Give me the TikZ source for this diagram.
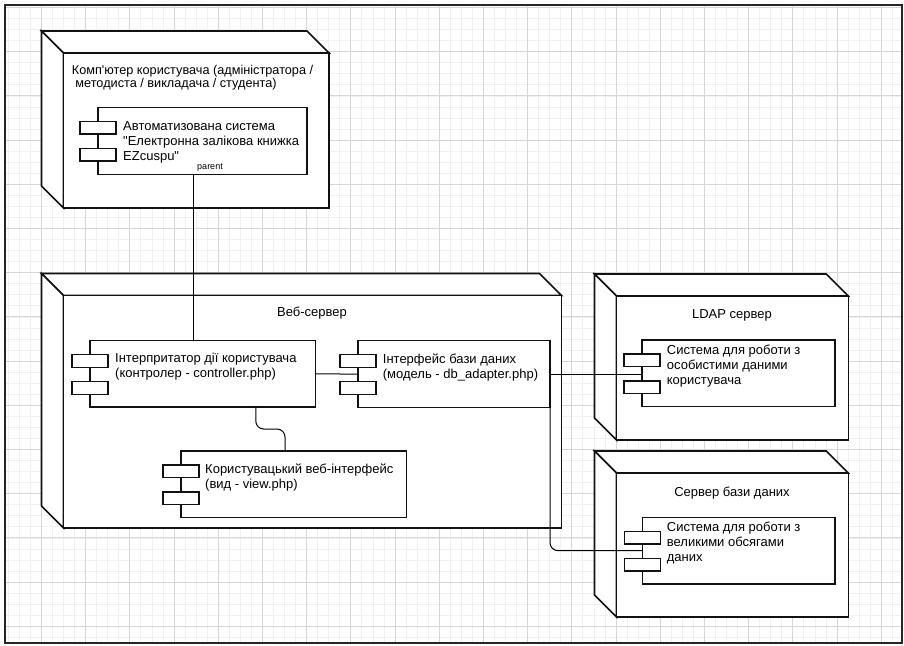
\documentclass[tikz,border=0pt]{standalone}
\usepackage{fontspec}
\newfontfamily\lsans{Liberation Sans}
\definecolor{gmajor}{HTML}{D6D6D6}
\definecolor{gminor}{HTML}{F0F0F0}
\definecolor{ink}{HTML}{111111}
\newcommand\boxthreed[5]{%
  \filldraw[nodeline] (#2,#3) -- (#2-22,#3-22) -- (#4-22,#3-22) -- (#4,#3) -- cycle;
  \filldraw[nodeline] (#2,#3) -- (#2-22,#3-22) -- (#2-22,#5-22) -- (#2,#5) -- cycle;
  \node[frontbox, minimum width={#4-#2}, minimum height={#5-#3}] (#1) at (#2,#3) {};}
\newcommand\compo[5]{%
  \node[compbox, minimum width={#4-#2}, minimum height={#5-#3}] (#1) at (#2,#3) {};
  \draw[tabbox] ([shift={(-18,14)}]#1.north west) rectangle ++(36,12.5);
  \draw[tabbox] ([shift={(-18,41)}]#1.north west) rectangle ++(36,12.5);}
\begin{document}
\begin{tikzpicture}[x=1pt,y=-1pt,
  nodeline/.style={draw=ink, line width=1.6pt, fill=white, line join=miter},
  frontbox/.style={nodeline, rectangle, inner sep=0, outer sep=0, anchor=north west},
  compbox/.style={draw=ink, line width=1.4pt, fill=white, rectangle, inner sep=0, outer sep=0, anchor=north west},
  tabbox/.style={draw=ink, line width=1.4pt, fill=white},
  conn/.style={draw=black, line width=1pt},
  txt/.style={font=\lsans\fontsize{13}{15}\selectfont, inner sep=0, align=left, anchor=north west},
  hdr/.style={font=\lsans\fontsize{12.7}{12.5}\selectfont, inner sep=0, align=left, anchor=north west},
  lbl/.style={font=\lsans\fontsize{13}{15}\selectfont, inner sep=0, anchor=base},
  tinytxt/.style={font=\lsans\fontsize{9}{10}\selectfont, inner sep=0}]
\useasboundingbox (0,0) rectangle (904,645);
\fill[white] (0,0) rectangle (904,645);
% grid
\begin{scope}
\clip (5,5) rectangle (902,643);
\foreach \i in {0,...,82} {\draw[gminor, line width=0.8pt] ({-2.8+11.05*\i},0) -- ++(0,645);}
\foreach \i in {0,...,59} {\draw[gminor, line width=0.8pt] (0,{-3.55+11.05*\i}) -- ++(904,0);}
\foreach \i in {0,...,21} {\draw[gmajor, line width=1pt] ({-2.8+44.2*\i},0) -- ++(0,645);}
\foreach \i in {0,...,14} {\draw[gmajor, line width=1pt] (0,{7.5+44.2*\i}) -- ++(904,0);}
\end{scope}
\draw[line width=2pt, black!85] (5,5) rectangle (902,643);
% 3D nodes
\boxthreed{pc}{63.5}{53}{329}{208}
\boxthreed{web}{63.5}{295.5}{561.5}{528}
\boxthreed{ldap}{616.5}{296}{848.3}{440}
\boxthreed{dbs}{616.5}{473}{848.3}{617}
% components
\compo{app}{98}{107.3}{307}{174.3}
\compo{ctrl}{90}{340.7}{315.5}{407}
\compo{dbi}{358}{340.7}{550}{407.5}
\compo{view}{181}{451}{406.7}{517.5}
\compo{ldapc}{642}{340}{835}{406.7}
\compo{dbc}{642.7}{517.3}{835}{584}
% labels
\node[hdr] (pct) at (71.7,65.5) {Комп'ютер користувача (адміністратора /\\\ методиста / викладача / студента)};
\node[lbl] (webt) at (312,316) {Веб-сервер};
\node[lbl] (ldapt) at (732,318.5) {LDAP сервер};
\node[lbl] (dbst) at (732,496) {Сервер бази даних};
\node[txt] (appt) at (123,121.7) {Автоматизована система\\"Електронна залікова книжка\\EZcuspu"};
\node[txt] (ctrlt) at (115,353.3) {Інтерпритатор дії користувача\\(контролер - controller.php)};
\node[txt] (dbit) at (382.7,353.3) {Інтерфейс бази даних\\(модель - db\_adapter.php)};
\node[txt] (viewt) at (205,463.3) {Користувацький веб-інтерфейс\\(вид - view.php)};
\node[txt] (ldapct) at (666.7,344.3) {Система для роботи з\\особистими даними\\користувача};
\node[txt] (dbct) at (666.7,521.7) {Система для роботи з\\великими обсягами\\даних};
\node[tinytxt] (par) at (210,167.5) {parent};
% connectors
\draw[conn] ([xshift=-9pt]app.south) -- ([xshift=-9pt]app.south |- ctrl.north);
\draw[conn] (ctrl.east) -- (dbi.west);
\draw[conn] (dbi.east) -- (dbi.east -| ldapc.west);
\draw[conn, rounded corners=8pt] (dbi.south east) |- (dbc.west);
\draw[conn, rounded corners=8pt] ([xshift=53pt]ctrl.south) -- ++(0,22) -| ([xshift=-8.85pt]view.north);
\end{tikzpicture}
\end{document}
